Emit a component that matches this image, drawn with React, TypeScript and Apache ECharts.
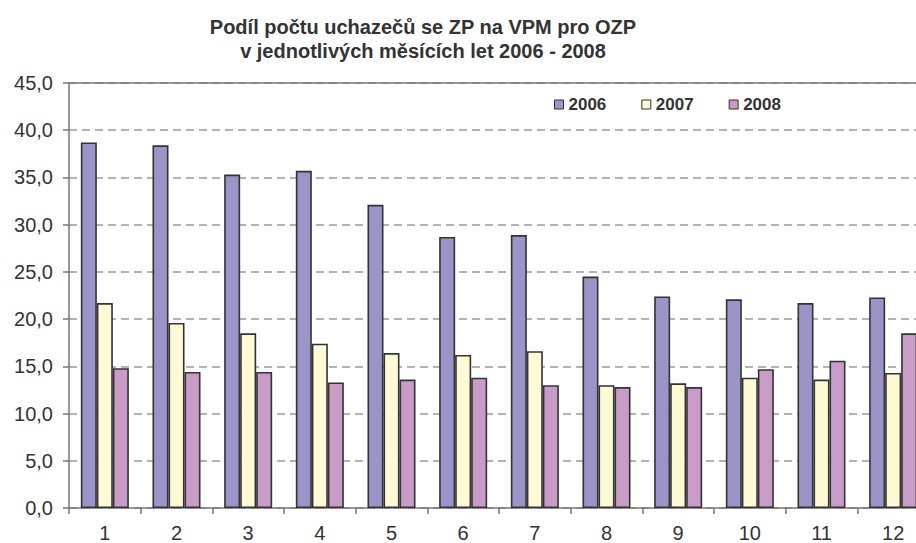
import React, { useEffect, useRef } from "react";
import * as echarts from "echarts";

const categories = ["1", "2", "3", "4", "5", "6", "7", "8", "9", "10", "11", "12"];
const seriesNames = ["2006", "2007", "2008"];
const values2006 = [38.7, 38.4, 35.3, 35.7, 32.1, 28.7, 28.9, 24.5, 22.4, 22.1, 21.7, 22.3];
const values2007 = [21.7, 19.6, 18.5, 17.4, 16.4, 16.2, 16.6, 13.0, 13.2, 13.8, 13.6, 14.3];
const values2008 = [14.8, 14.4, 14.4, 13.3, 13.6, 13.8, 13.0, 12.8, 12.8, 14.7, 15.6, 18.5];
const colors = ["#9a94c8", "#fffad6", "#c99cc8"];
const titleLines = ["Podíl počtu uchazečů se ZP na VPM pro OZP", "v jednotlivých měsících let 2006 - 2008"];

export default function App() {
  const ref = useRef<HTMLDivElement>(null);
  useEffect(() => {
    if (!ref.current) return;
    const chart = echarts.init(ref.current, null, { renderer: "svg" });
    const font = "'Liberation Sans', Arial, Helvetica, sans-serif";
    const data = [values2006, values2007, values2008];
    chart.setOption({
      animation: false,
      backgroundColor: "#ffffff",
      textStyle: { fontFamily: font },
      title: {
        text: titleLines.join("\n"),
        left: 418,
        textAlign: "center",
        top: 10,
        textStyle: { fontFamily: font, fontSize: 20, fontWeight: "bold", color: "#333333", lineHeight: 24 },
      },
      legend: {
        left: 549,
        top: 91,
        icon: "rect",
        itemWidth: 9,
        itemHeight: 9,
        itemGap: 35,
        textStyle: { fontFamily: font, fontSize: 17, fontWeight: "bold", color: "#333333" },
        itemStyle: { borderColor: "#333333", borderWidth: 1 },
        data: seriesNames,
      },
      grid: { left: 69, right: 0, top: 83, bottom: 35, containLabel: false, outerBoundsMode: "none" },
      xAxis: [
        {
          type: "category",
          data: categories,
          position: "bottom",
          axisLine: { lineStyle: { color: "#7f7575", width: 1.5 } },
          axisTick: { show: true, length: 6, lineStyle: { color: "#7f7575", width: 1.5 } },
          axisLabel: { fontFamily: font, fontSize: 20, color: "#333333", margin: 15, lineHeight: 20 },
        },
        {
          type: "category",
          data: categories,
          position: "top",
          axisLine: { show: true, lineStyle: { color: "#7f7575", width: 1.5 } },
          axisTick: { show: false },
          axisLabel: { show: false },
        },
      ],
      yAxis: {
        type: "value",
        min: 0,
        max: 45,
        interval: 5,
        axisLine: { show: true, lineStyle: { color: "#7f7575", width: 1.5 } },
        axisTick: { show: true, length: 6, lineStyle: { color: "#7f7575", width: 1.5 } },
        axisLabel: {
          fontFamily: font,
          fontSize: 20,
          color: "#333333",
          margin: 16,
          formatter: (v: number) => v.toFixed(1).replace(".", ","),
        },
        splitLine: { show: true, lineStyle: { color: "#999999", width: 1.5, type: [8, 5] } },
      },
      series: seriesNames.map((name, i) => ({
        name,
        type: "bar",
        data: data[i],
        barGap: "0%",
        barCategoryGap: "33%",
        itemStyle: { color: colors[i], borderColor: "#333333", borderWidth: 1.6 },
      })),
    });
    return () => chart.dispose();
  }, []);
  return (
    <div style={{ position: "fixed", left: 0, top: 0, width: 916, height: 543, overflow: "hidden" }}>
      <div ref={ref} style={{ width: 929, height: 543 }} />
    </div>
  );
}
